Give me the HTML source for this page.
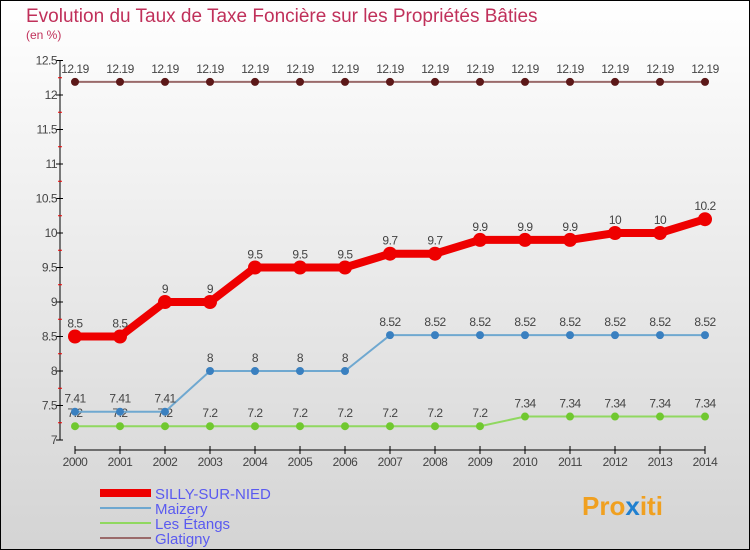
<!DOCTYPE html>
<html><head><meta charset="utf-8"><style>
body{margin:0}
#c{position:relative;width:750px;height:550px;box-sizing:border-box;border:1px solid #000;background:linear-gradient(#fff,#d4d4d4);font-family:"Liberation Sans",sans-serif;overflow:hidden}
</style></head><body>
<div id="c">
<svg width="750" height="550" style="position:absolute;left:-1px;top:-1px" id="s">
<text x="26" y="22" font-size="19" fill="#c0305a">Evolution du Taux de Taxe Foncière sur les Propriétés Bâties</text>
<text x="26" y="39" font-size="12" fill="#c0305a">(en %)</text>
<g id="axes"></g><g id="marks"></g>
<g>
<line x1="100" y1="493" x2="151" y2="493" stroke="#e00" stroke-width="8"/>
<text x="155" y="499" font-size="15" fill="#5a5af0">SILLY-SUR-NIED</text>
<line x1="100" y1="508" x2="151" y2="508" stroke="#6fa8d0" stroke-width="2"/>
<text x="155" y="514" font-size="15" fill="#5a5af0">Maizery</text>
<line x1="100" y1="523" x2="151" y2="523" stroke="#90d860" stroke-width="2"/>
<text x="155" y="529" font-size="15" fill="#5a5af0">Les Étangs</text>
<line x1="100" y1="538" x2="151" y2="538" stroke="#9a6a6a" stroke-width="2"/>
<text x="155" y="544" font-size="15" fill="#5a5af0">Glatigny</text>
</g>
<text x="582" y="515" font-size="26" font-weight="bold" fill="#f0a020">Pro<tspan fill="#2080d0">x</tspan>iti</text>
</svg>
</div>
<script>
const years=[2000,2001,2002,2003,2004,2005,2006,2007,2008,2009,2010,2011,2012,2013,2014];
const silly=[8.5,8.5,9,9,9.5,9.5,9.5,9.7,9.7,9.9,9.9,9.9,10,10,10.2];
const maizery=[7.41,7.41,7.41,8,8,8,8,8.52,8.52,8.52,8.52,8.52,8.52,8.52,8.52];
const etangs=[7.2,7.2,7.2,7.2,7.2,7.2,7.2,7.2,7.2,7.2,7.34,7.34,7.34,7.34,7.34];
const glatigny=[12.19,12.19,12.19,12.19,12.19,12.19,12.19,12.19,12.19,12.19,12.19,12.19,12.19,12.19,12.19];
const yTicks=[7,7.5,8,8.5,9,9.5,10,10.5,11,11.5,12,12.5];
const NS="http://www.w3.org/2000/svg";
const X=i=>75+i*45, Y=v=>440-(v-7)*69;
function mk(p,t,a){const e=document.createElementNS(NS,t);for(const k in a)e.setAttribute(k,a[k]);p.appendChild(e);return e;}
const ax=document.getElementById('axes'),mg=document.getElementById('marks');
let l=mk(ax,'line',{x1:60,y1:Y(12.5),x2:60,y2:Y(7),stroke:'#000'});


yTicks.forEach(v=>{mk(ax,'line',{x1:56,x2:63,y1:Y(v),y2:Y(v),stroke:'#000'});
 mk(ax,'line',{x1:58,x2:62,y1:Y(v+0.25),y2:Y(v+0.25),stroke:v<12.5?'#e00':'none'});
 const t=mk(ax,'text',{x:57,y:Y(v)+4,'text-anchor':'end','font-size':12,fill:'#444','letter-spacing':'-0.5'});t.textContent=String(v);
 
 });
l=mk(ax,'line',{x1:X(0),y1:450,x2:X(14),y2:450,stroke:'#000'});


years.forEach((y,i)=>{mk(ax,'line',{x1:X(i),x2:X(i),y1:446,y2:454,stroke:'#000'});
 const t=mk(ax,'text',{x:X(i),y:466,'text-anchor':'middle','font-size':12,fill:'#444','letter-spacing':'-0.5'});t.textContent=y;
 
 });
function series(name,vals,col,dot,w,r,fmt){
 const g=mk(mg,'g',{});
 
 
 mk(g,'polyline',{points:vals.map((v,i)=>X(i)+','+Y(v)).join(' '),fill:'none',stroke:col,'stroke-width':w});
 vals.forEach((v,i)=>{const c=mk(g,'circle',{cx:X(i),cy:Y(v),r:r,fill:dot});
  
  
  const t=mk(g,'text',{x:X(i),y:Y(v)-9,'text-anchor':'middle','font-size':12,fill:'#444','letter-spacing':'-0.5'});t.textContent=String(v);
  
  });
}
series('glatigny',glatigny,'#9a6a6a','#5c1818',2,4);
series('les-etangs',etangs,'#90d860','#70c830',2,4);
series('maizery',maizery,'#6fa8d0','#3a80c0',2,4);
series('silly',silly,'#e00','#e00',8,7);
</script>
</body></html>
